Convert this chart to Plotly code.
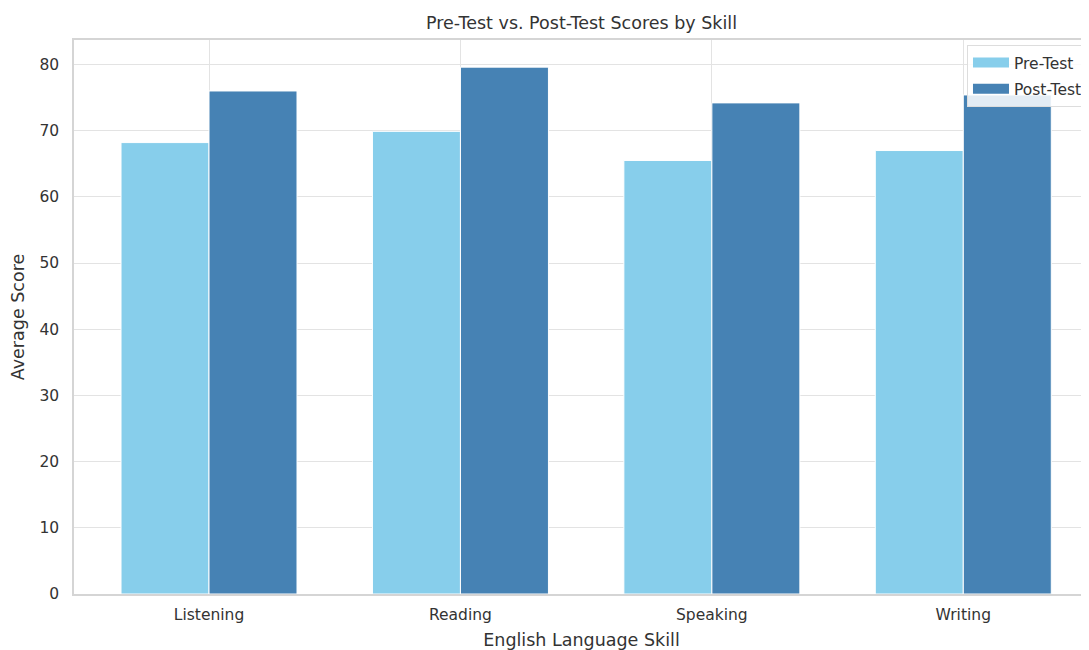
import plotly.graph_objects as go

skills = ["Listening", "Reading", "Speaking", "Writing"]
pre_test = [68.2, 69.9, 65.5, 67.0]
post_test = [76.0, 79.6, 74.2, 75.4]
y_ticks = [0, 10, 20, 30, 40, 50, 60, 70, 80]
series_names = ["Pre-Test", "Post-Test"]
series_colors = ["#87CEEB", "#4682B4"]

bar_w = 0.35
font = "DejaVu Sans"
txt = "#333333"

W, H = 1081, 642  # page body adds an 8px margin

fig = go.Figure()
for name, vals, color, off in zip(series_names, [pre_test, post_test], series_colors, [-bar_w, 0]):
    fig.add_trace(go.Bar(
        x=skills, y=vals, name=name, showlegend=False,
        width=bar_w, offset=off,
        marker=dict(color=color, line=dict(color="white", width=1)),
    ))
# legend proxies (wide rectangle symbols, like matplotlib)
for i, (name, color) in enumerate(zip(series_names, series_colors)):
    fig.add_trace(go.Scatter(
        x=[None], y=[None], mode="lines", name=name, legendgroup=f"g{i}",
        line=dict(color=color, width=10),
    ))

fig.update_layout(
    width=W, height=H,
    barmode="overlay",
    paper_bgcolor="white", plot_bgcolor="white",
    margin=dict(l=66, r=0, t=32, b=H - 32 - 554, autoexpand=False),
    font=dict(family=font, color=txt, size=15),
    title=dict(text="Pre-Test vs. Post-Test Scores by Skill",
               x=0.5, xref="paper", xanchor="center",
               y=1 - 15 / H, yanchor="middle",
               font=dict(size=17.5, color=txt, family=font)),
    legend=dict(x=0.999, xanchor="right", y=0.991, yanchor="top",
                bgcolor="rgba(255,255,255,0.85)", bordercolor="#dddddd",
                borderwidth=1, font=dict(size=15.5, color=txt, family=font),
                itemwidth=36, traceorder="grouped", tracegroupgap=3),
    showlegend=True,
)
fig.update_xaxes(
    type="category", range=[-0.537, 3.5], automargin=False,
    showgrid=True, gridcolor="#e3e3e3", gridwidth=1.2,
    showline=True, linecolor="#d5d5d5", linewidth=1.5, mirror=True,
    ticks="", ticklabelstandoff=6,
    title=dict(text="English Language Skill", font=dict(size=17.5, color=txt), standoff=10),
    tickfont=dict(size=15.5, color=txt),
)
fig.update_yaxes(
    range=[0, 83.7], tickvals=y_ticks, automargin=False,
    showgrid=True, gridcolor="#e3e3e3", gridwidth=1.2,
    showline=True, linecolor="#d5d5d5", linewidth=1.5,
    zeroline=False, ticks="", ticklabelstandoff=10,
    title=dict(text="Average Score", font=dict(size=17.5, color=txt), standoff=10),
    tickfont=dict(size=15.5, color=txt),
)

fig.write_html("out.html")
